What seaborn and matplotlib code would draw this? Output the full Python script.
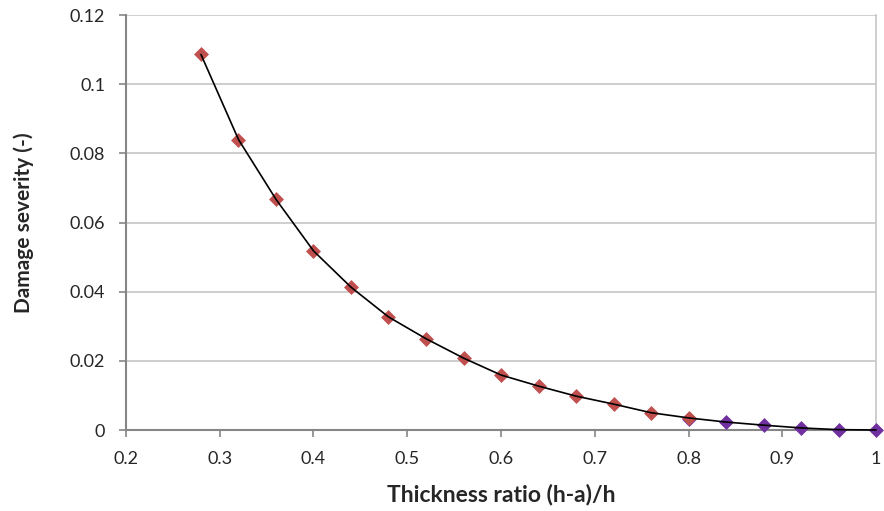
import matplotlib
matplotlib.use('Agg')
import matplotlib.pyplot as plt
import seaborn as sns
import numpy as np
import pandas as pd

sns.set_style('white')
plt.rcParams['font.family'] = ['Lato', 'DejaVu Sans']

# Excel-like colours
RED = '#C0504D'
PURPLE = '#7030A0'
AXIS_GRAY = '#868686'
GRID_GRAY = '#C6C6C6'

# Thickness ratio and damage severity
ratio_red = [0.28, 0.32, 0.36, 0.40, 0.44, 0.48, 0.52, 0.56, 0.60, 0.64, 0.68, 0.72, 0.76, 0.80]
severity_red = [0.1086, 0.0840, 0.0667, 0.0518, 0.0413, 0.0327, 0.0264, 0.0208, 0.0159, 0.0127, 0.0098,
                0.0075, 0.0050, 0.0035]
ratio_purple = [0.80, 0.84, 0.88, 0.92, 0.96, 1.00]
severity_purple = [0.0033, 0.0023, 0.0014, 0.0006, 0.0001, 0.0]

x_ticks = [0.2, 0.3, 0.4, 0.5, 0.6, 0.7, 0.8, 0.9, 1.0]
y_ticks = [0, 0.02, 0.04, 0.06, 0.08, 0.1, 0.12]

red_df = pd.DataFrame({'ratio': ratio_red, 'severity': severity_red})
purple_df = pd.DataFrame({'ratio': ratio_purple, 'severity': severity_purple})
line_df = pd.concat([red_df, purple_df.iloc[1:]], ignore_index=True)

fig = plt.figure(figsize=(8.84, 5.11), dpi=100)
ax = fig.add_axes([0.1425, 0.1585, 0.991 - 0.1425, 0.9706 - 0.1585])

sns.scatterplot(data=purple_df, x='ratio', y='severity', marker='D', s=58, color=PURPLE,
                edgecolor=PURPLE, linewidth=0, ax=ax, zorder=3, clip_on=False)
sns.scatterplot(data=red_df, x='ratio', y='severity', marker='D', s=58, color=RED,
                edgecolor=RED, linewidth=0, ax=ax, zorder=4, clip_on=False)
sns.lineplot(data=line_df, x='ratio', y='severity', color='black', linewidth=1.2, ax=ax,
             zorder=5, sort=True, clip_on=False)

ax.set_xlim(0.2, 1.0)
ax.set_ylim(0, 0.12)
ax.set_xticks(x_ticks)
ax.set_xticklabels(['0.2', '0.3', '0.4', '0.5', '0.6', '0.7', '0.8', '0.9', '1'])
ax.set_yticks(y_ticks)
ax.set_yticklabels(['0', '0.02', '0.04', '0.06', '0.08', '0.1', '0.12'])

ax.yaxis.grid(True, color=GRID_GRAY, linewidth=1.2)
ax.xaxis.grid(False)
ax.set_axisbelow(True)

for side in ['left', 'bottom']:
    ax.spines[side].set_color(AXIS_GRAY)
    ax.spines[side].set_linewidth(1.5)
ax.spines['top'].set_visible(False)
ax.spines['right'].set_color(GRID_GRAY)
ax.spines['right'].set_linewidth(1.2)

ax.tick_params(axis='both', which='major', labelsize=13, color=AXIS_GRAY, length=5, width=1.2,
               direction='out', bottom=True, left=True)
ax.tick_params(axis='x', pad=10)
ax.tick_params(axis='y', pad=10)

ax.set_xlabel('Thickness ratio (h-a)/h', fontsize=16.5, fontweight='bold', labelpad=12)
ax.set_ylabel('Damage severity (-)', fontsize=15, fontweight='bold', labelpad=26)

plt.savefig('out.png', dpi=100)
